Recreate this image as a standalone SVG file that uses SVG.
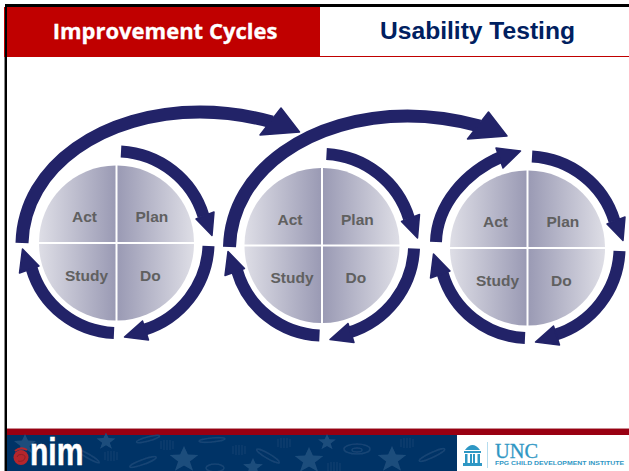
<svg xmlns="http://www.w3.org/2000/svg" width="629" height="471" viewBox="0 0 629 471">
<style>
.lbl{font:bold 15.5px "Liberation Sans",Arial,sans-serif;fill:#606060}
.arc{fill:none;stroke:#222368;stroke-width:12}
.big{fill:none;stroke:#222368;stroke-width:13}
.head{fill:#222368;stroke:#222368;stroke-width:1.5;stroke-linejoin:round}
.star{fill:#1f4d7c}
.sw{fill:none;stroke:#174474;stroke-width:1.6}
.ht{fill:none;stroke:#174474;stroke-width:.8}
.well{fill:#2f97c4}
</style>
<defs>
<filter id="soft" x="-5%" y="-20%" width="110%" height="140%"><feGaussianBlur stdDeviation="0.7"/></filter>
<filter id="soft2" x="-5%" y="-20%" width="110%" height="140%"><feGaussianBlur stdDeviation="0.35"/></filter>
<linearGradient id="gL" x1="0" y1="0" x2="1" y2="0"><stop offset="0" stop-color="#dedee6"/><stop offset="1" stop-color="#9a9ab4"/></linearGradient>
<linearGradient id="gR" x1="0" y1="0" x2="1" y2="0"><stop offset="0" stop-color="#9a9ab4"/><stop offset="1" stop-color="#dedee6"/></linearGradient>
<g id="pie">
<path d="M-1,-1V-77.5A77,77 0 0 0 -77.5,-1Z" fill="url(#gL)"/>
<path d="M1,-1V-77.5A77,77 0 0 1 77.5,-1Z" fill="url(#gR)"/>
<path d="M-1,1V77.5A77,77 0 0 1 -77.5,1Z" fill="url(#gL)"/>
<path d="M1,1V77.5A77,77 0 0 0 77.5,1Z" fill="url(#gR)"/>
</g>
<g id="aPlan"><path class="arc" d="M4.500,-91.500A91.500,91.500 0 0 1 87,-27"/><polygon class="head" points="97.500,-31 95.500,-7.500 79.500,-24"/></g>
<g id="aDo"><path class="arc" d="M92,3A92,92 0 0 1 27,87"/><polygon class="head" points="8,94 32,97 26,78"/></g>
<g id="aStudy"><path class="arc" d="M-2.500,90A90,90 0 0 1 -85,25"/><polygon class="head" points="-94,6 -97,30 -77.500,23"/></g>
<path id="bigArc" class="big" d="M22,243C24,165 105,112 200,112C225,112 250,116 272,122"/>
<polygon id="bigHead" class="head" points="299.500,132 281,108 260,135"/>
<polygon id="st" class="star" points="0,-10 3,-3.500 11,-3 4.500,2 7,9 0,5 -7,9 -4.500,2 -11,-3 -3,-3.500"/>
<g id="hatch"><path class="ht" d="M-7,-4v8M-4,-5v10M-1,-5v10M2,-5v10M5,-4v8"/></g>
</defs>
<rect width="629" height="471" fill="#fff"/>
<g id="header">
<rect x="4" y="7" width="316" height="50" fill="#c00000"/>
<rect x="320" y="56" width="309" height="1" fill="#c00000"/>
<text x="165" y="39" text-anchor="middle" font-family="'Open Sans',sans-serif" font-weight="700" font-size="22" fill="#fff" stroke="#fff" stroke-width="0.3">Improvement Cycles</text>
<text x="477.500" y="39" text-anchor="middle" font-family="'Liberation Sans',Arial,sans-serif" font-weight="700" font-size="24.600" fill="#002060">Usability Testing</text>
</g>
<rect id="frameTop" x="5" y="4" width="624" height="3" fill="#000"/>
<rect id="frameLeftGrey" x="4" y="57" width="1" height="414" fill="#888"/>
<rect id="frameLeft" x="5" y="4" width="2" height="467" fill="#000"/>
<g id="cycle1" transform="translate(116.500,243)">
<use href="#pie"/>
<text class="lbl" x="-44.500" y="-21">Act</text><text class="lbl" x="19" y="-21">Plan</text>
<text class="lbl" x="-51.500" y="37.500">Study</text><text class="lbl" x="23.500" y="37.500">Do</text>
</g>
<g id="cycle2" transform="translate(322,245.500)">
<use href="#pie"/>
<text class="lbl" x="-44.500" y="-21">Act</text><text class="lbl" x="19" y="-21">Plan</text>
<text class="lbl" x="-51.500" y="37.500">Study</text><text class="lbl" x="23.500" y="37.500">Do</text>
</g>
<g id="cycle3" transform="translate(527.500,248)">
<use href="#pie"/>
<text class="lbl" x="-44.500" y="-21">Act</text><text class="lbl" x="19" y="-21">Plan</text>
<text class="lbl" x="-51.500" y="37.500">Study</text><text class="lbl" x="23.500" y="37.500">Do</text>
</g>
<g id="connectors">
<use href="#aPlan" transform="translate(116.500,243)"/><use href="#aDo" transform="translate(116.500,243)"/><use href="#aStudy" transform="translate(116.500,243)"/>
<use href="#aPlan" transform="translate(322,245.500)"/><use href="#aDo" transform="translate(322,245.500)"/><use href="#aStudy" transform="translate(322,245.500)"/>
<use href="#aPlan" transform="translate(527.500,248)"/><use href="#aDo" transform="translate(527.500,248)"/><use href="#aStudy" transform="translate(527.500,248)"/>
<use href="#bigArc"/><use href="#bigHead"/>
<use href="#bigArc" transform="translate(207.500,4)"/><use href="#bigHead" transform="translate(207.500,4)"/>
<path class="arc" d="M436,242C437,205 465,172 503,156"/><polygon class="head" points="520.500,151 496,148 503,168"/>
</g>
<g id="footer">
<rect x="7" y="428" width="622" height="7" fill="#990012"/>
<rect x="7" y="428" width="622" height="1" fill="#c98a92"/>
<rect x="7" y="435" width="450" height="36" fill="#003366"/>
<g filter="url(#soft)">
<use href="#st" transform="translate(25,444)"/>
<use href="#st" transform="translate(106,441)scale(.85)"/>
<use href="#st" transform="translate(184,459)scale(1.3)"/>
<use href="#st" transform="translate(253,467)scale(.9)"/>
<use href="#st" transform="translate(327,442)scale(.8)"/>
<use href="#st" transform="translate(309,460)scale(1.3)"/>
<use href="#st" transform="translate(392,459)scale(1.3)"/>
<ellipse class="sw" cx="148" cy="439" rx="12" ry="2" transform="rotate(-15 148 439)"/>
<ellipse class="sw" cx="212" cy="440" rx="13" ry="2" transform="rotate(-5 212 440)"/>
<ellipse class="sw" cx="143" cy="462" rx="14" ry="2.500" transform="rotate(-20 143 462)"/>
<ellipse class="sw" cx="88" cy="456" rx="13" ry="2" transform="rotate(30 88 456)"/>
<ellipse class="sw" cx="268" cy="456" rx="13" ry="2.500" transform="rotate(30 268 456)"/>
<ellipse class="sw" cx="432" cy="455" rx="14" ry="2.500" transform="rotate(-25 432 455)"/>
<ellipse class="sw" cx="357" cy="449" rx="13" ry="5"/><ellipse class="sw" cx="357" cy="450" rx="5" ry="2"/>
<ellipse class="sw" cx="215" cy="468" rx="9" ry="4"/>
<use href="#hatch" transform="translate(112,456)"/>
<use href="#hatch" transform="translate(168,445)"/>
<use href="#hatch" transform="translate(240,450)"/>
<use href="#hatch" transform="translate(285,443)"/>
<use href="#hatch" transform="translate(408,443)"/>
<use href="#hatch" transform="translate(335,467)"/>
</g>
</g>
<g id="logos">
<circle cx="21" cy="457.500" r="7.500" fill="#b5262c"/>
<path d="M15,451Q21,446 27,450" fill="none" stroke="#b5262c" stroke-width="2"/>
<path d="M17,457a4,3 0 1 1 8,1a5,4 0 0 1 -7,3" fill="none" stroke="#8e1e24" stroke-width="1"/>
<text transform="translate(30,465) scale(1,1.3)" font-family="'Liberation Sans',sans-serif" font-weight="700" font-size="30" fill="#fff" stroke="#fff" stroke-width="0.4">nim</text>
<path class="well" filter="url(#soft2)" d="M465,450Q472.500,440 480,450ZM464,451h17v2h-17ZM465,454h2.500v9h-2.500ZM470,454h2v9h-2ZM473,454h2v9h-2ZM477.500,454h2.500v9h-2.500ZM463,463h19v3h-19Z"/>
<rect x="487" y="442" width="1" height="26" fill="#b5dcee"/>
<text x="495" y="458" font-family="'Liberation Serif',serif" font-size="21" fill="#2f97c4" stroke="#2f97c4" stroke-width="0.3" textLength="43" lengthAdjust="spacingAndGlyphs">UNC</text>
<text x="495" y="465" font-family="'Liberation Sans',sans-serif" font-weight="700" font-size="6" fill="#2f97c4" textLength="129" lengthAdjust="spacingAndGlyphs">FPG CHILD DEVELOPMENT INSTITUTE</text>
</g>
</svg>
